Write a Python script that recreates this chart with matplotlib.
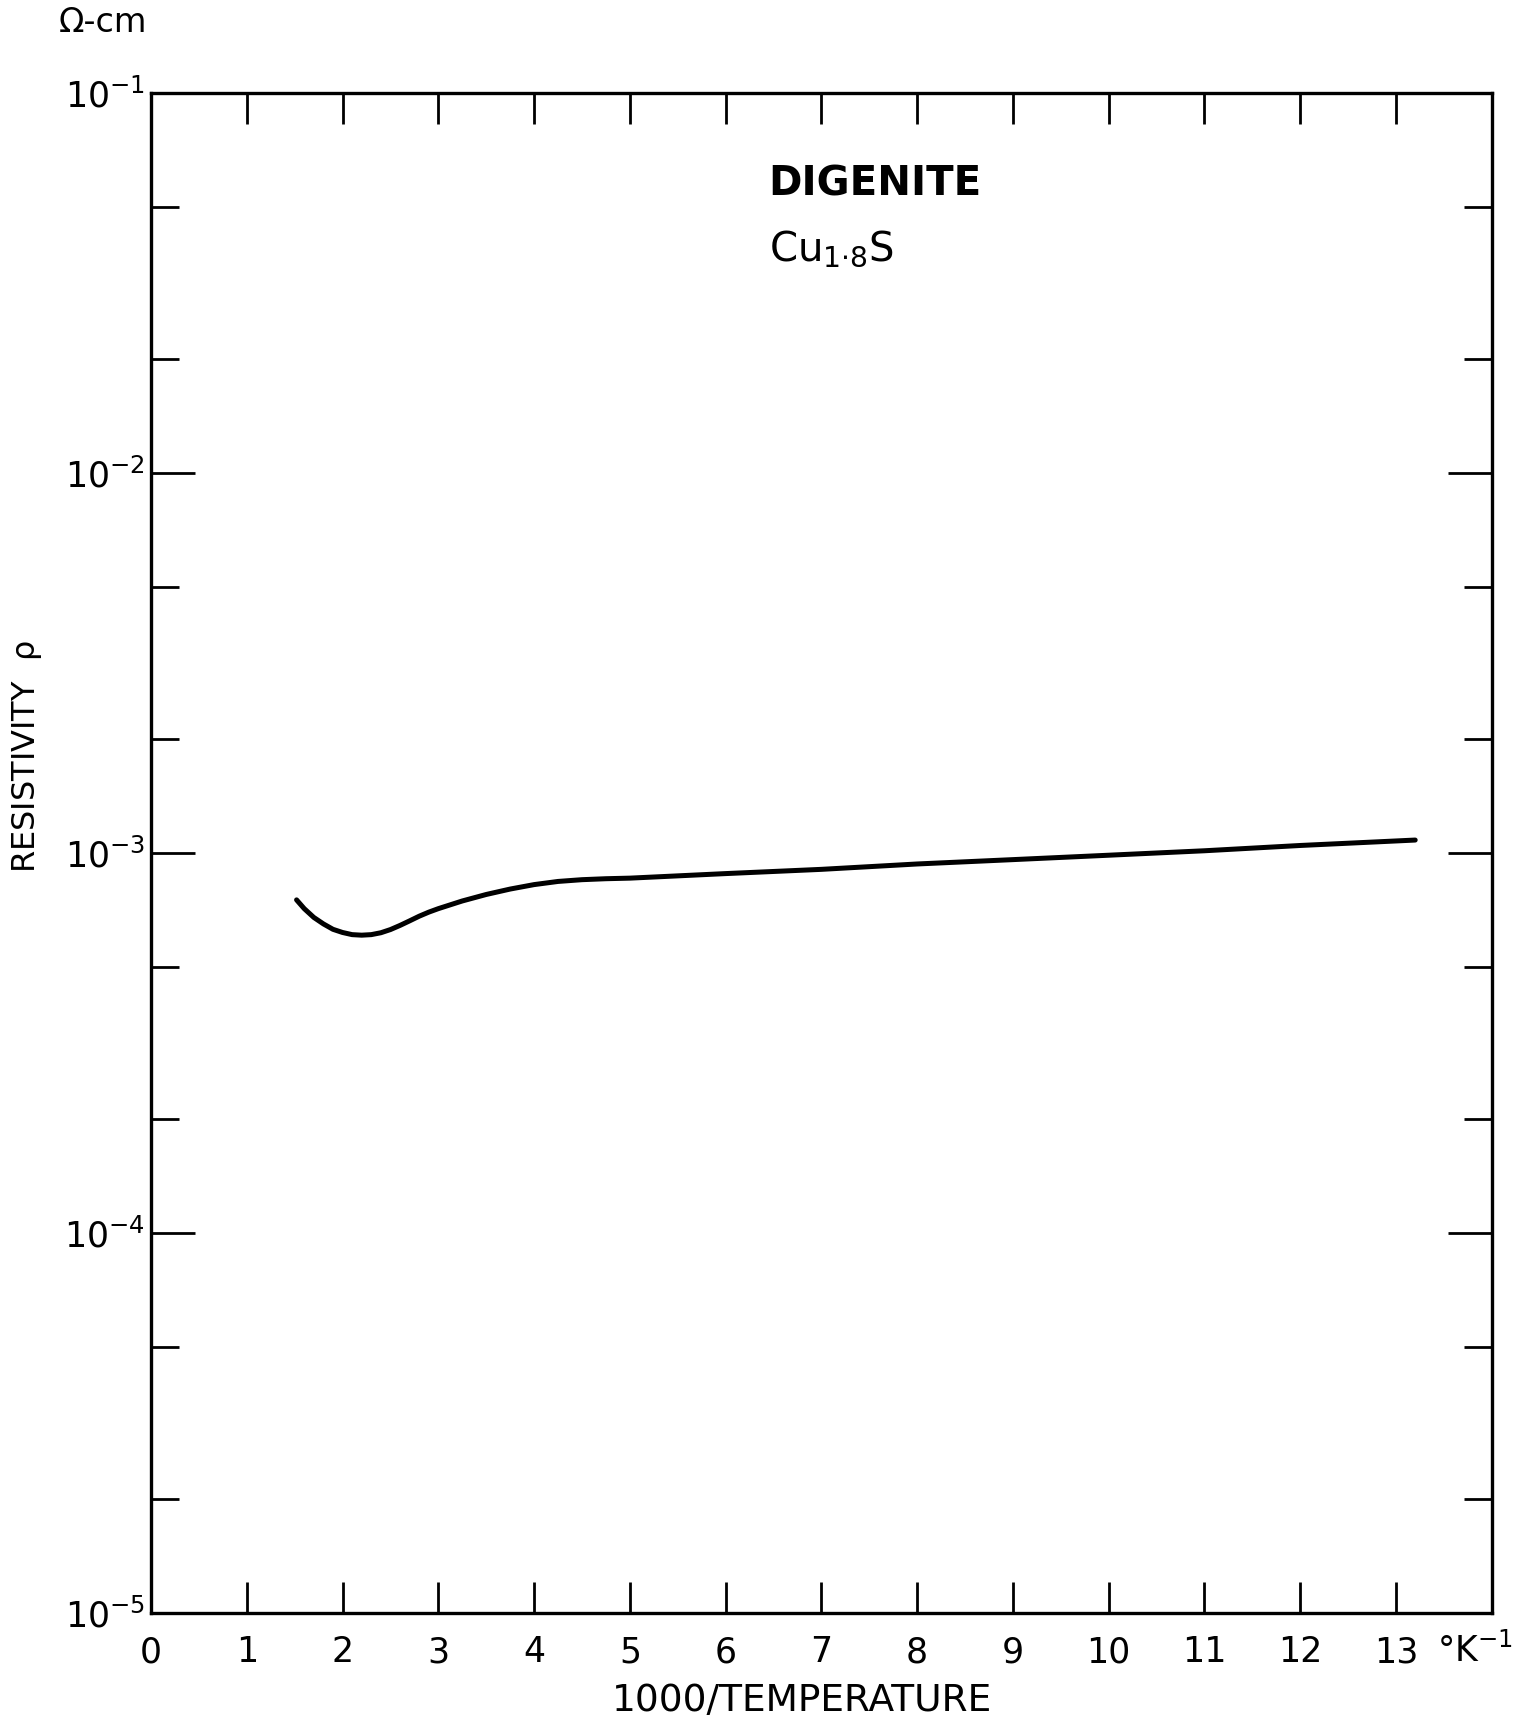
import matplotlib.pyplot as plt
from matplotlib.ticker import FixedLocator, NullFormatter

plt.rcParams['mathtext.default'] = 'regular'
plt.rcParams['font.family'] = 'DejaVu Sans'

# digenite Cu1.8S resistivity curve
inv_temp = [1.52, 1.6, 1.7, 1.8, 1.9, 2.0, 2.1, 2.2, 2.3, 2.4, 2.5, 2.6, 2.7,
            2.8, 2.9, 3.0, 3.25, 3.5, 3.75, 4.0, 4.25, 4.5, 4.75, 5.0,
            6.0, 7.0, 8.0, 9.0, 10.0, 11.0, 12.0, 13.2]
resistivity = [7.53e-4, 7.14e-4, 6.77e-4, 6.51e-4, 6.30e-4, 6.18e-4, 6.10e-4,
               6.08e-4, 6.10e-4, 6.17e-4, 6.29e-4, 6.45e-4, 6.63e-4, 6.82e-4,
               6.99e-4, 7.14e-4, 7.48e-4, 7.78e-4, 8.04e-4, 8.26e-4, 8.42e-4,
               8.51e-4, 8.56e-4, 8.59e-4, 8.83e-4, 9.06e-4, 9.36e-4, 9.61e-4,
               9.87e-4, 1.014e-3, 1.047e-3, 1.082e-3]

x_ticks = list(range(0, 14))
x_labels = [str(v) for v in x_ticks]
y_major = [1e-5, 1e-4, 1e-3, 1e-2, 1e-1]
y_labels = [r'$10^{-5}$', r'$10^{-4}$', r'$10^{-3}$', r'$10^{-2}$', r'$10^{-1}$']
y_minor = [2e-5, 5e-5, 2e-4, 5e-4, 2e-3, 5e-3, 2e-2, 5e-2]

fig = plt.figure(figsize=(15.13, 17.23), dpi=100)
ax = fig.add_axes([0.0998, 0.0638, 0.8862, 0.8822])

ax.plot(inv_temp, resistivity, color='black', linewidth=3.6,
        solid_capstyle='round', solid_joinstyle='round')

ax.set_yscale('log')
ax.set_xlim(0, 14)
ax.set_ylim(1e-5, 1e-1)

ax.set_xticks(x_ticks)
ax.set_xticklabels(x_labels, fontsize=25)
ax.yaxis.set_major_locator(FixedLocator(y_major))
ax.set_yticklabels(y_labels, fontsize=25)
ax.yaxis.set_minor_locator(FixedLocator(y_minor))
ax.yaxis.set_minor_formatter(NullFormatter())

ax.tick_params(axis='x', which='major', direction='in', length=22, width=2,
               top=True, bottom=True, pad=16)
ax.tick_params(axis='y', which='major', direction='in', length=32, width=2,
               left=True, right=True, pad=4)
ax.tick_params(axis='y', which='minor', direction='in', length=20, width=2,
               left=True, right=True)

for side in ax.spines.values():
    side.set_linewidth(2.4)

ax.text(13.82, -0.025, '°K$^{-1}$', transform=ax.get_xaxis_transform(),
        fontsize=25, ha='center', va='center')

ax.text(6.45, 10 ** -1.24, 'DIGENITE', fontsize=29, fontweight='bold', va='center')
ax.text(6.45, 10 ** -1.41, r'Cu$_{1{\cdot}8}$S', fontsize=29, va='center')

fig.text(0.068, 0.987, 'Ω-cm', fontsize=24, ha='center', va='center')
fig.text(0.018, 0.561, 'RESISTIVITY  $\\rho$', fontsize=23, rotation=90,
         ha='center', va='center')
fig.text(0.530, 0.013, '1000/TEMPERATURE', fontsize=27, ha='center', va='center')

fig.savefig('out.png', dpi=100)
